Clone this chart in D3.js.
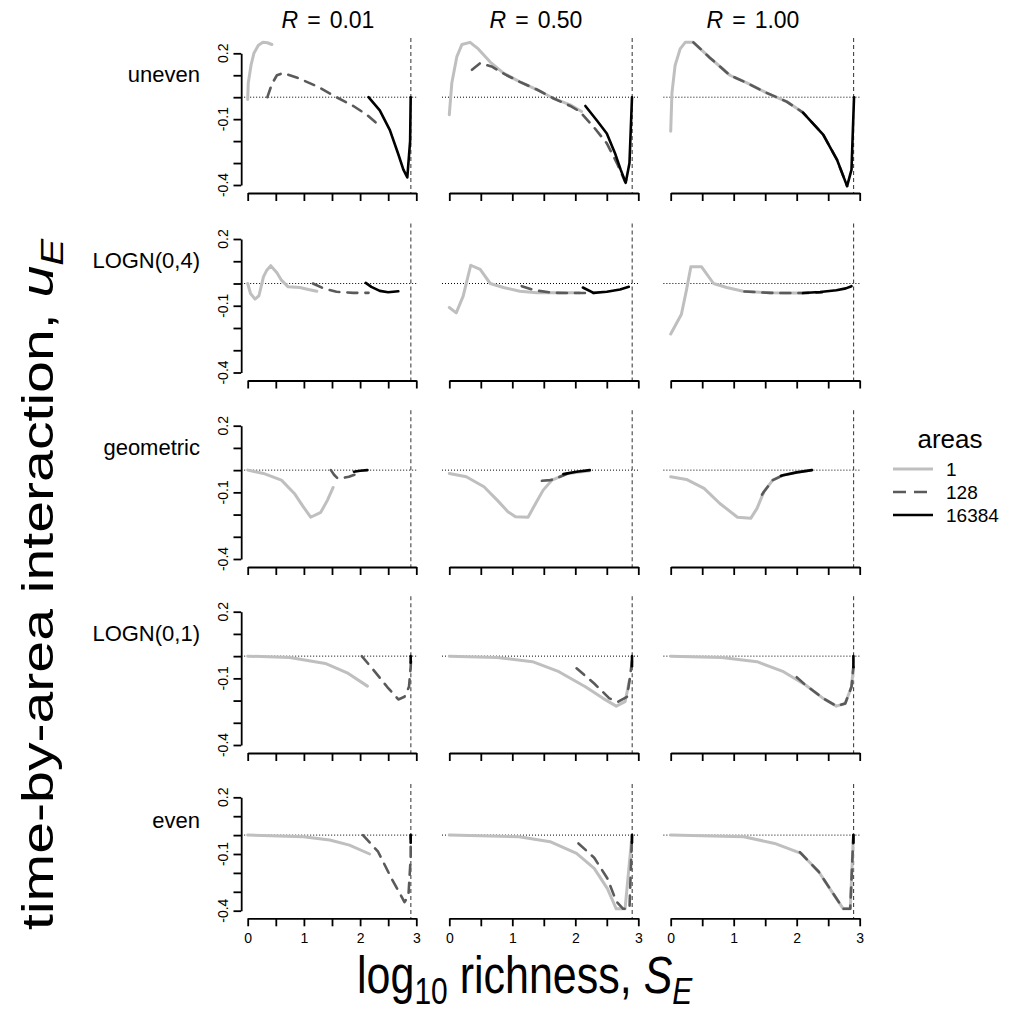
<!DOCTYPE html>
<html><head><meta charset="utf-8">
<script src="https://cdn.jsdelivr.net/npm/d3@7"></script>
<style>
body{margin:0;background:#fff}
text{font-family:"Liberation Sans",Arial,Helvetica,sans-serif;fill:#000}
</style>
</head><body>
<svg id="chart" width="1014" height="1010"></svg>
<script>
// ---------- categories / labels ----------
const distributions = ["uneven", "LOGN(0,4)", "geometric", "LOGN(0,1)", "even"];
const rValues = ["0.01", "0.50", "1.00"];
const areas = ["1", "128", "16384"];
const xTicks = [0, 0.5, 1, 1.5, 2, 2.5, 3];
const xTickLabels = ["0", "", "1", "", "2", "", "3"];
const yTicks = [0.2, 0.1, 0, -0.1, -0.2, -0.3, -0.4];
const yTickLabels = ["0.2", "", "", "-0.1", "", "", "-0.4"];
const maxRichness = 2.903; // log10(800)

// ---------- series values: [log10 richness, u_E]; order per panel = areas 1, 128, 16384 ----------
const uneven_R001 = [
  [[0,-0.01],[0.01,0.065],[0.06,0.147],[0.11,0.2],[0.19,0.237],[0.27,0.25],[0.35,0.248],[0.43,0.24]],
  [[0.35,0],[0.43,0.06],[0.52,0.10],[0.63,0.11],[0.87,0.09],[1.23,0.05],[1.58,0.0],[1.88,-0.04],[2.12,-0.08],[2.30,-0.12]],
  [[2.15,0],[2.35,-0.06],[2.53,-0.15],[2.68,-0.26],[2.77,-0.33],[2.84,-0.365],[2.89,-0.2],[2.90,0]]
];
const uneven_R050 = [
  [[0,-0.08],[0.04,0.065],[0.12,0.185],[0.2,0.24],[0.33,0.25],[0.46,0.22],[0.65,0.16],[0.86,0.11],[1.12,0.07],[1.39,0.035],[1.65,-0.005],[1.92,-0.035],[2.10,-0.065]],
  [[0.36,0.125],[0.49,0.155],[0.67,0.14],[0.91,0.10],[1.12,0.07],[1.39,0.035],[1.65,-0.005],[1.92,-0.04],[2.07,-0.065],[2.29,-0.135],[2.5,-0.21],[2.66,-0.30],[2.79,-0.385],[2.84,-0.36]],
  [[2.16,-0.04],[2.34,-0.105],[2.5,-0.165],[2.63,-0.255],[2.72,-0.33],[2.80,-0.39],[2.86,-0.30],[2.9,0]]
];
const uneven_R100 = [
  [[0,-0.155],[0.02,0.02],[0.07,0.145],[0.15,0.22],[0.23,0.25],[0.36,0.25],[0.62,0.18],[0.94,0.10],[1.21,0.065],[1.52,0.02],[1.84,-0.02],[2.10,-0.07]],
  [[0.36,0.25],[0.62,0.18],[0.94,0.10],[1.21,0.065],[1.52,0.02],[1.84,-0.02],[2.10,-0.07],[2.42,-0.17],[2.64,-0.285],[2.80,-0.405]],
  [[2.10,-0.07],[2.42,-0.17],[2.64,-0.285],[2.80,-0.405],[2.87,-0.33],[2.91,0]]
];
const logn4_R001 = [
  [[0,0],[0.05,-0.045],[0.13,-0.07],[0.2,-0.055],[0.28,0.03],[0.34,0.06],[0.41,0.08],[0.52,0.048],[0.60,0.015],[0.72,-0.015],[0.93,-0.018],[1.08,-0.027],[1.23,-0.035]],
  [[1.16,0],[1.35,-0.022],[1.58,-0.037],[1.88,-0.042],[2.15,-0.042]],
  [[2.1,0.003],[2.2,-0.015],[2.35,-0.033],[2.5,-0.039],[2.68,-0.035]]
];
const logn4_R050 = [
  [[0,-0.108],[0.11,-0.132],[0.22,-0.057],[0.34,0.082],[0.49,0.063],[0.65,0],[0.86,-0.018],[1.12,-0.035],[1.39,-0.042],[1.92,-0.042],[2.07,-0.042]],
  [[1.15,-0.012],[1.35,-0.03],[1.65,-0.042],[2.07,-0.043],[2.3,-0.043]],
  [[2.12,-0.018],[2.29,-0.042],[2.5,-0.037],[2.71,-0.027],[2.85,-0.015]]
];
const logn4_R100 = [
  [[0,-0.227],[0.17,-0.138],[0.25,-0.03],[0.32,0.075],[0.49,0.075],[0.68,0],[0.89,-0.018],[1.15,-0.035],[1.58,-0.042],[1.84,-0.043],[2.1,-0.043]],
  [[1.17,-0.036],[1.58,-0.042],[1.84,-0.043],[2.1,-0.043],[2.4,-0.04]],
  [[2.1,-0.043],[2.37,-0.038],[2.63,-0.03],[2.78,-0.022],[2.87,-0.012]]
];
const geometric_R001 = [
  [[0,0],[0.28,-0.015],[0.6,-0.045],[0.83,-0.105],[0.99,-0.165],[1.12,-0.212],[1.30,-0.19],[1.42,-0.135],[1.52,-0.078]],
  [[1.48,0],[1.54,-0.022],[1.60,-0.037],[1.70,-0.035],[1.80,-0.03],[1.93,-0.018]],
  [[1.89,-0.007],[2.0,-0.003],[2.13,0]]
];
const geometric_R050 = [
  [[0,-0.015],[0.27,-0.03],[0.55,-0.075],[0.76,-0.135],[0.93,-0.187],[1.05,-0.21],[1.25,-0.212],[1.37,-0.15],[1.49,-0.09],[1.63,-0.045],[1.88,-0.015],[2.23,-0.003]],
  [[1.47,-0.048],[1.6,-0.045],[1.67,-0.04],[1.88,-0.015]],
  [[1.81,-0.018],[2.02,-0.007],[2.23,0]]
];
const geometric_R100 = [
  [[0,-0.03],[0.25,-0.042],[0.53,-0.082],[0.78,-0.15],[1.06,-0.212],[1.27,-0.217],[1.37,-0.172],[1.48,-0.097],[1.62,-0.045],[1.79,-0.022],[2.0,-0.01],[2.24,0]],
  [[1.45,-0.11],[1.48,-0.097],[1.62,-0.045],[1.79,-0.022]],
  [[1.75,-0.025],[2.0,-0.01],[2.24,0]]
];
const logn1_R001 = [
  [[0,0],[0.75,-0.006],[1.38,-0.033],[1.77,-0.075],[2.13,-0.135]],
  [[2.03,0],[2.24,-0.063],[2.48,-0.138],[2.68,-0.195],[2.79,-0.183],[2.87,-0.138],[2.90,-0.048],[2.91,0]],
  [[2.9,-0.03],[2.9,0]]
];
const logn1_R050 = [
  [[0,0],[0.76,-0.006],[1.32,-0.025],[1.74,-0.07],[2.16,-0.138],[2.44,-0.19],[2.65,-0.225],[2.79,-0.205],[2.86,-0.108]],
  [[2.02,-0.055],[2.30,-0.123],[2.54,-0.19],[2.68,-0.205],[2.82,-0.183],[2.87,-0.093],[2.9,-0.018]],
  [[2.9,-0.045],[2.9,0]]
];
const logn1_R100 = [
  [[0,0],[0.81,-0.006],[1.37,-0.025],[1.79,-0.07],[2.14,-0.13],[2.42,-0.19],[2.63,-0.225],[2.77,-0.213],[2.87,-0.138],[2.9,-0.048]],
  [[2.0,-0.095],[2.14,-0.13],[2.42,-0.19],[2.63,-0.225],[2.77,-0.213],[2.87,-0.138],[2.9,-0.048]],
  [[2.9,-0.05],[2.9,0]]
];
const even_R001 = [
  [[0,0],[0.99,-0.009],[1.46,-0.026],[1.81,-0.053],[2.17,-0.10]],
  [[2.05,0],[2.32,-0.088],[2.56,-0.23],[2.71,-0.31],[2.79,-0.355],[2.86,-0.32],[2.9,-0.12],[2.9,0]],
  [[2.9,-0.04],[2.9,0]]
];
const even_R050 = [
  [[0,0],[1.11,-0.009],[1.6,-0.035],[2.02,-0.097],[2.30,-0.176],[2.51,-0.283],[2.65,-0.39],[2.79,-0.39],[2.9,0]],
  [[2.05,-0.044],[2.30,-0.12],[2.51,-0.23],[2.65,-0.35],[2.76,-0.39],[2.86,-0.39],[2.9,0]],
  [[2.9,-0.04],[2.9,0]]
];
const even_R100 = [
  [[0,0],[1.16,-0.009],[1.65,-0.044],[2.07,-0.097],[2.35,-0.194],[2.56,-0.3],[2.74,-0.39],[2.85,-0.39],[2.9,0]],
  [[2.05,-0.09],[2.35,-0.194],[2.56,-0.3],[2.74,-0.39],[2.85,-0.39],[2.9,0]],
  [[2.9,-0.04],[2.9,0]]
];
const panels = [
  [uneven_R001, uneven_R050, uneven_R100],
  [logn4_R001, logn4_R050, logn4_R100],
  [geometric_R001, geometric_R050, geometric_R100],
  [logn1_R001, logn1_R050, logn1_R100],
  [even_R001, even_R050, even_R100]
];

// ---------- layout & styles ----------
const colRange = [[247.7, 416.3], [449.3, 638.3], [670.7, 859.7]];
const rowRange = [[185, 53.3], [372.5, 239], [559, 425.7], [745, 611.7], [910.7, 797.3]];
const titleX = [328, 536, 753];
const seriesStyle = [
  {color: "#bfbfbf", width: 3, dash: null},
  {color: "#5a5a5a", width: 2.6, dash: "10,8"},
  {color: "#000000", width: 2.6, dash: null}
];

const svg = d3.select("#chart");
const g = svg.append("g");

panels.forEach((row, r) => {
  row.forEach((panel, c) => {
    const x = d3.scaleLinear().domain([0, 3]).range(colRange[c]);
    const y = d3.scaleLinear().domain([-0.4, 0.2]).range(rowRange[r]);
    const left = x(-0.116), right = x(3.016);
    const top = y(0.27), bottom = y(-0.4) + (r === 4 ? 7.6 : 8);
    const p = g.append("g");

    // zero reference (dotted)
    p.append("line").attr("x1", left).attr("x2", right)
      .attr("y1", y(0)).attr("y2", y(0))
      .attr("stroke", "#000").attr("stroke-width", 1).attr("stroke-dasharray", "1,2");
    // max richness (dashed)
    p.append("line").attr("x1", x(maxRichness)).attr("x2", x(maxRichness))
      .attr("y1", top).attr("y2", bottom)
      .attr("stroke", "#444").attr("stroke-width", 1.1).attr("stroke-dasharray", "4,3");

    // curves
    const line = d3.line().x(d => x(d[0])).y(d => y(d[1]));
    panel.forEach((s, i) => {
      const st = seriesStyle[i];
      p.append("path").datum(s).attr("d", line)
        .attr("fill", "none").attr("stroke", st.color).attr("stroke-width", st.width)
        .attr("stroke-linecap", "round").attr("stroke-linejoin", "round")
        .attr("stroke-dasharray", st.dash);
    });

    // x axis
    const xa = d3.axisBottom(x).tickValues(xTicks).tickSize(8).tickSizeOuter(0).tickPadding(7)
      .tickFormat((d, i) => r === 4 ? xTickLabels[i] : "");
    const xg = p.append("g").attr("transform", `translate(0,${bottom})`).call(xa);
    xg.select(".domain").attr("stroke-width", 1.8);
    xg.selectAll(".tick line").attr("stroke-width", 1.8);
    xg.selectAll("text").attr("font-size", 14).attr("font-family", "Liberation Sans, Arial, sans-serif");

    // y axis (first column only)
    if (c === 0) {
      const ya = d3.axisLeft(y).tickValues(yTicks).tickSize(7.7).tickSizeOuter(0).tickFormat("");
      const yg = p.append("g").attr("transform", `translate(${left},0)`).call(ya);
      yg.select(".domain").attr("stroke-width", 1.8);
      yg.selectAll(".tick line").attr("stroke-width", 1.8);
      yTicks.forEach((t, i) => {
        if (!yTickLabels[i]) return;
        p.append("text").attr("transform", `translate(${left - 13},${y(t)}) rotate(-90)`)
          .attr("text-anchor", "middle").attr("font-size", 14).text(yTickLabels[i]);
      });
      // row label
      p.append("text").attr("x", 200).attr("y", y(0.1) + (r === 4 ? 12 : 7))
        .attr("text-anchor", "end").attr("font-size", 22).text(distributions[r]);
    }

    // column title
    if (r === 0) {
      const t = p.append("text").attr("x", titleX[c]).attr("y", 28)
        .attr("text-anchor", "middle").attr("font-size", 23);
      t.append("tspan").attr("font-style", "italic").text("R");
      t.append("tspan").attr("dx", 9).text("=");
      t.append("tspan").attr("dx", 9).text(rValues[c]);
    }
  });
});

// axis titles
const yt = svg.append("text").attr("transform", "translate(53,930) rotate(-90) scale(1.3,1)")
  .attr("text-anchor", "start").attr("font-size", 44);
yt.append("tspan").text("time-by-area interaction,  ");
yt.append("tspan").attr("font-style", "italic").text("u");
yt.append("tspan").attr("font-style", "italic").attr("font-size", 31).attr("dy", 10).text("E");

const xt = svg.append("text").attr("transform", "translate(357,993) scale(1,1.2)").attr("font-size", 43);
xt.append("tspan").text("log");
xt.append("tspan").attr("font-size", 30).attr("dy", 9).text("10");
xt.append("tspan").attr("dy", -9).text(" richness,  ");
xt.append("tspan").attr("font-style", "italic").text("S");
xt.append("tspan").attr("font-style", "italic").attr("font-size", 30).attr("dy", 9).text("E");

// legend
const lg = svg.append("g");
lg.append("text").attr("x", 950).attr("y", 448).attr("text-anchor", "middle").attr("font-size", 26).text("areas");
areas.forEach((a, i) => {
  const yy = 469 + i * 23;
  const st = seriesStyle[i];
  lg.append("line").attr("x1", 893).attr("x2", 933).attr("y1", yy).attr("y2", yy)
    .attr("stroke", st.color).attr("stroke-width", st.width)
    .attr("stroke-dasharray", st.dash ? "13,8" : null);
  lg.append("text").attr("x", 946).attr("y", yy + 7).attr("font-size", 19).text(a);
});
</script>
</body></html>
